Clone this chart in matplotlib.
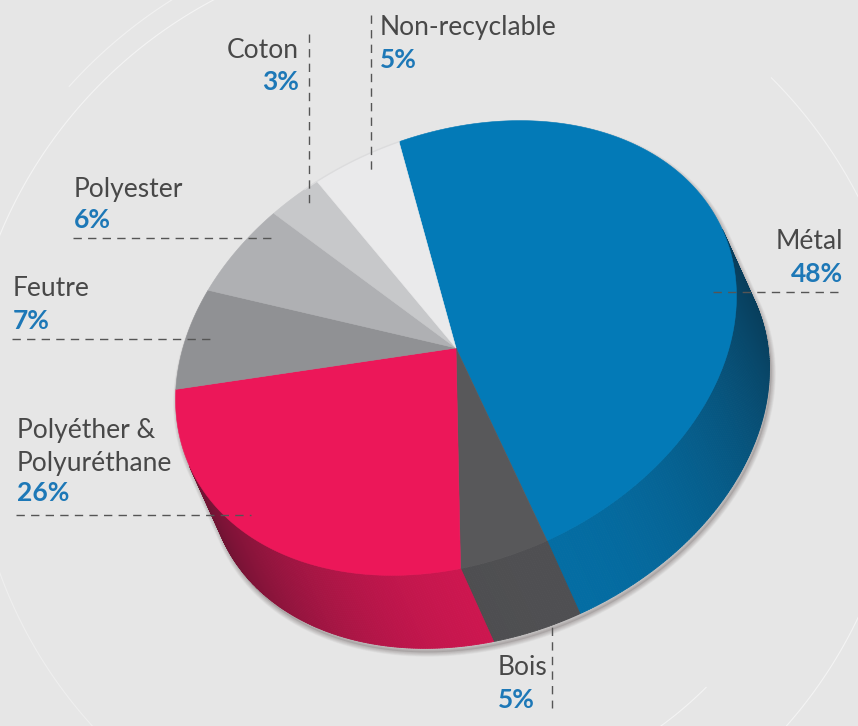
import numpy as np
import matplotlib
matplotlib.use('Agg')
import matplotlib.pyplot as plt
from matplotlib.patches import Polygon
from matplotlib.collections import PolyCollection

# ---------------- data ----------------
categories = ['Métal', 'Bois', 'Polyéther &\nPolyuréthane', 'Feutre', 'Polyester', 'Coton', 'Non-recyclable']
values = [48, 5, 26, 7, 6, 3, 5]
pct_labels = ['48%', '5%', '26%', '7%', '6%', '3%', '5%']
top_colors = ['#037ab7', '#58585a', '#ec1759', '#909194', '#afb0b3', '#c7c8ca', '#eaeaeb']

# ---------------- figure ----------------
W, H = 858, 726
BG = '#e6e6e6'
fig = plt.figure(figsize=(W / 100, H / 100), dpi=100)
fig.patch.set_facecolor(BG)
ax = fig.add_axes([0, 0, 1, 1])
ax.set_xlim(0, W)
ax.set_ylim(H, 0)
ax.axis('off')
ax.set_facecolor(BG)

# decorative faint white arcs
ARC_C = np.array([434., 415.])
for r, a0, a1, al in [(470, 195, 250, 0.55), (491, 222, 240, 0.45), (470, 18, 46, 0.55),
                      (462, 135, 165, 0.35), (385, 45, 57, 0.55), (477, -45, -25, 0.5)]:
    aa = np.deg2rad(np.linspace(a0, a1, 120))
    ax.plot(ARC_C[0] + r * np.cos(aa), ARC_C[1] + r * np.sin(aa), color='white',
            lw=0.8, alpha=al, zorder=1, solid_capstyle='round')

# ---------------- pie geometry (pixel space, y down) ----------------
C = np.array([456., 348.])
M = np.array([[280., -16.], [-39., 224.]])
D = np.array([33., 73.])
T0 = np.deg2rad(-105)


def top_pts(t):
    t = np.atleast_1d(t)
    u = np.stack([np.cos(t), np.sin(t)])
    return (C[:, None] + M @ u).T


# tangent angles where the silhouette switches between top and bottom rim
num = -(M[0, 1] * D[1] - M[1, 1] * D[0])
den = (-M[0, 0] * D[1] + M[1, 0] * D[0])
t_r = np.arctan2(num, den)
mid = top_pts(t_r + np.pi / 2)[0] - C
if mid @ D < 0:
    t_r = t_r + np.pi
while t_r < T0:
    t_r += 2 * np.pi
vis = (t_r, t_r + np.pi)
T_PEAK = np.deg2rad(72)

fr = np.cumsum([0] + values) / float(sum(values))
angles = T0 + 2 * np.pi * fr

# soft shadow of whole solid
hull_t_top = np.linspace(vis[1], vis[0] + 2 * np.pi, 200)
hull_t_bot = np.linspace(vis[0], vis[1], 200)
hull = np.vstack([top_pts(hull_t_top), top_pts(hull_t_bot) + D])
shadow = hull + np.array([2., 4.])
for k in range(9, 0, -1):
    ax.add_patch(Polygon(shadow, closed=True, facecolor='none',
                         edgecolor=(0.25, 0.18, 0.18, 0.03), lw=k * 0.7,
                         joinstyle='round', zorder=2))
ax.add_patch(Polygon(shadow, closed=True, facecolor=(0.3, 0.25, 0.25, 0.15),
                     edgecolor='none', zorder=2))

# side faces with shading
for i in range(len(values)):
    a, b = angles[i], angles[i + 1]
    for off in (0, -2 * np.pi, 2 * np.pi):
        lo = max(a, vis[0] + off)
        hi = min(b, vis[1] + off)
        if hi <= lo:
            continue
        n = max(2, int(np.degrees(hi - lo) * 2))
        ts = np.linspace(lo, hi, n + 1)
        p = top_pts(ts)
        polys, cols = [], []
        base = np.array(matplotlib.colors.to_rgb(top_colors[i]))
        for j in range(n):
            quad = [p[j], p[j + 1], p[j + 1] + D, p[j] + D]
            tm = 0.5 * (ts[j] + ts[j + 1]) - off
            cv = max(np.cos(tm - T_PEAK), 0.0)
            s = 0.44 + 0.44 * cv ** 1.5
            c = base * s + (1 - s) * np.array([0.05, 0.06, 0.08])
            polys.append(quad)
            cols.append(np.clip(c, 0, 1))
        ax.add_collection(PolyCollection(polys, facecolors=cols, edgecolors=cols,
                                         linewidths=0.6, zorder=3))

# top faces
for i in range(len(values)):
    ts = np.linspace(angles[i], angles[i + 1], 200)
    pts = np.vstack([C, top_pts(ts)])
    ax.add_patch(Polygon(pts, closed=True, facecolor=top_colors[i],
                         edgecolor=top_colors[i], lw=0.4, zorder=4))
# subtle rim on light wedge
ts = np.linspace(angles[-2] - 0.05, angles[-1], 100)
ax.plot(*top_pts(ts).T, color='#dcdcdd', lw=1.0, zorder=4.5)

# ---------------- labels ----------------
NAME_FONT = dict(family=['Lato', 'DejaVu Sans'], weight='normal', color='#484848', fontsize=19)
PCT_FONT = dict(family=['Lato', 'DejaVu Sans'], weight='bold', color='#1d78b7', fontsize=19)
DASH = dict(color='#555555', lw=1.0, dashes=(6, 4.5))

# (x, ha, name baseline, pct baseline)
label_pos = [
    (843, 'right', 249, 282),
    (498, 'left', 675, 708),
    (17, 'left', 438, 501),
    (13, 'left', 296, 329),
    (74, 'left', 197, 228),
    (299, 'right', 58, 90),
    (380, 'left', 35, 68),
]
for name, pct, (x, ha, yn, yp) in zip(categories, pct_labels, label_pos):
    lines = name.split('\n')
    for k, ln in enumerate(lines):
        yy = yn + 33 * k
        ax.text(x, yy, ln, ha=ha, va='baseline', zorder=6, **NAME_FONT)
    ax.text(x, yp, pct, ha=ha, va='baseline', zorder=6, **PCT_FONT)

# leader lines: (x0, y0, x1, y1, zorder)
leaders = [
    (713, 292, 844, 292, 5),
    (552, 598, 552, 708, 2.5),
    (16, 515, 251, 515, 5),
    (12, 339, 210, 339, 5),
    (73, 238, 271, 238, 5),
    (309, 34, 309, 207, 5),
    (370.5, 15, 370.5, 170, 5),
]
for x0, y0, x1, y1, z in leaders:
    ax.plot([x0, x1], [y0, y1], zorder=z, **DASH)

fig.savefig('out.png', dpi=100, facecolor=BG)
